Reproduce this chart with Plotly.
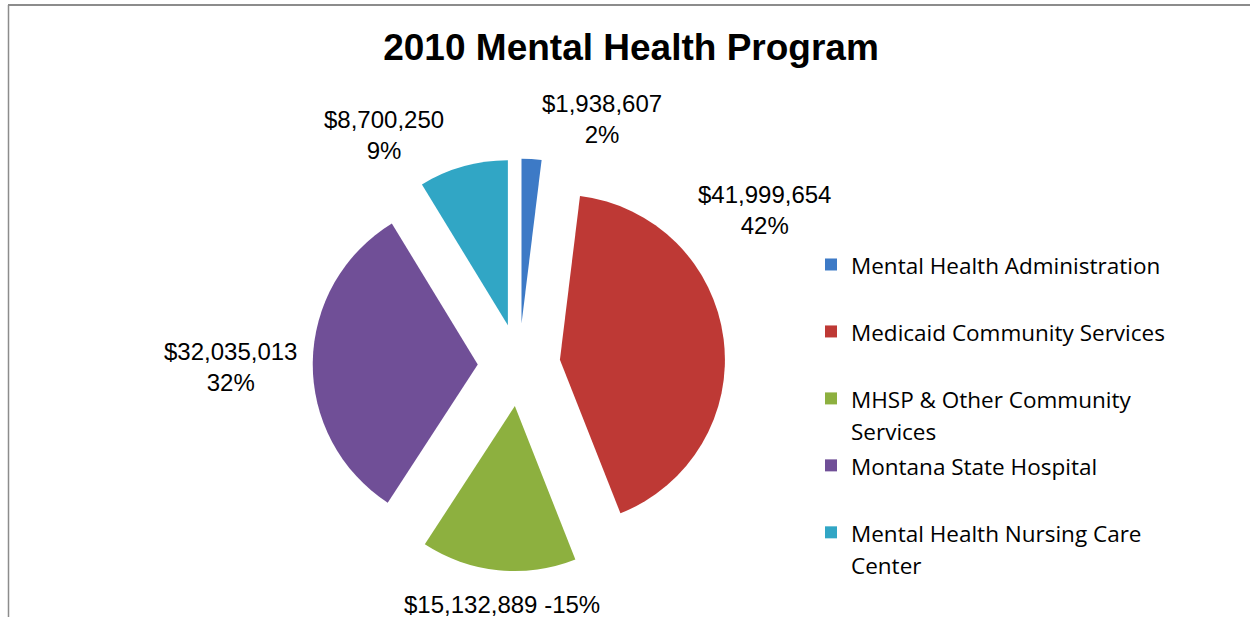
import textwrap
import plotly.graph_objects as go

# ---- data ----
categories = [
    "Mental Health Administration",
    "Medicaid Community Services",
    "MHSP & Other Community Services",
    "Montana State Hospital",
    "Mental Health Nursing Care Center",
]
amounts = [1938607, 41999654, 15132889, 32035013, 8700250]

# ---- styles / layout ----
W, H = 1250, 617
colors = ["#3D7AC6", "#BE3935", "#8DB03F", "#704F97", "#31A6C5"]
# label anchor points (pixels) for each data label
label_px = [(602, 119), (764, 210), (502, 604), (230, 367), (384, 135)]
single_line = [False, False, True, False, False]


def px(x):
    return x / W


def py(y):
    return 1 - y / H


total = sum(amounts)
pcts = [a / total * 100 for a in amounts]


def legend_label(name):
    lines = textwrap.wrap(name, width=28)
    if len(lines) < 2:
        lines.append("\u00a0")
    return "<br>".join(
        f"<span style='font-size:22.5px;font-family:\"Open Sans\"'>{ln}</span>" for ln in lines)


legend_labels = [legend_label(c) for c in categories]

fig = go.Figure(
    go.Pie(
        labels=legend_labels,
        values=amounts,
        sort=False,
        direction="clockwise",
        rotation=0,
        pull=[0.25] * len(amounts),
        marker=dict(colors=colors, line=dict(width=0)),
        textinfo="none",
        hoverinfo="skip",
        domain=dict(x=[px(312.75), px(725.25)], y=[py(571.25), py(158.75)]),
    )
)

annotations = []
for a, p, (x, y), one in zip(amounts, pcts, label_px, single_line):
    txt = f"${a:,} -{round(p)}%" if one else f"${a:,}<br>{round(p)}%"
    annotations.append(dict(
        x=px(x), y=py(y), xref="paper", yref="paper", text=txt, showarrow=False,
        xanchor="center", yanchor="middle", align="center",
        font=dict(family="Liberation Sans, Arial", size=24, color="#000000"),
    ))

fig.update_layout(
    width=W, height=H,
    margin=dict(l=0, r=0, t=0, b=0),
    paper_bgcolor="white", plot_bgcolor="white",
    title=dict(text="<b>2010 Mental Health Program</b>", x=px(631), xanchor="center",
               y=py(47), yanchor="middle",
               font=dict(family="Liberation Sans, Arial", size=37, color="#000000")),
    showlegend=True,
    legend=dict(x=px(811), xanchor="left", y=py(242), yanchor="top",
                valign="top", font=dict(family="Open Sans", size=24.6, color="#000000"),
                bgcolor="rgba(0,0,0,0)", itemclick=False),
    annotations=annotations,
    shapes=[
        dict(type="line", xref="paper", yref="paper", x0=px(8), x1=1, y0=py(5),
             y1=py(5), line=dict(color="#8C8C8C", width=2)),
        dict(type="line", xref="paper", yref="paper", x0=px(8.5), x1=px(8.5), y0=0,
             y1=py(5), line=dict(color="#8C8C8C", width=1.5)),
    ],
)

fig.write_html("out.html", config={"displayModeBar": False},
               post_script="document.body.style.margin='0';")
